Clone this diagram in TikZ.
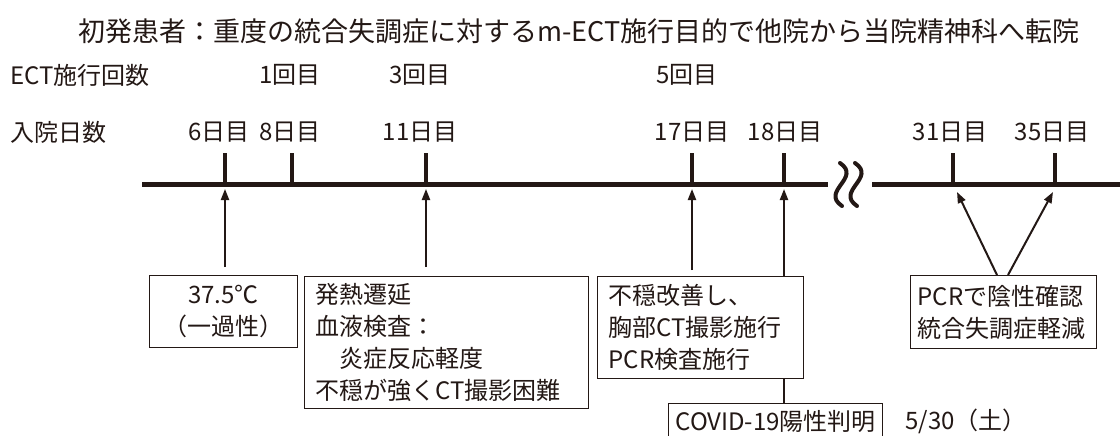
\documentclass[tikz,border=0pt]{standalone}
\usepackage{fontspec}
\setmainfont{Noto Sans CJK JP}
\usetikzlibrary{arrows.meta}
\definecolor{ink}{HTML}{231815}
\begin{document}
\begin{tikzpicture}[x=1pt,y=-1pt,
  lbl/.style={text=ink,font=\fontsize{24}{28}\selectfont,inner sep=0pt},
  ttl/.style={text=ink,font=\fontsize{27}{32}\selectfont,inner sep=0pt},
  box/.style={draw=ink,line width=1.3pt,text=ink,font=\fontsize{24}{32}\selectfont,
    anchor=north west,inner ysep=0pt},
  axis/.style={draw=ink,line width=5pt},
  tick/.style={draw=ink,line width=4pt},
  conn/.style={draw=ink,line width=2pt},
  arr/.style={conn,-{Triangle[length=11pt,width=8pt]}},
  brk/.style={draw=ink,line width=4pt,line cap=round}
]
\clip (0,0) rectangle (1120,436);
\fill[white] (0,0) rectangle (1120,436);

% title
\node[ttl] (title) at (579,31) {初発患者：重度の統合失調症に対するm-ECT施行目的で他院から当院精神科へ転院};

% row labels
\node[lbl,anchor=west] (ectlbl) at (10,75) {ECT施行回数};
\node[lbl,anchor=west] (daylbl) at (10,132) {入院日数};

% timeline
\coordinate (a0) at (142,184);
\coordinate (a1) at (828,184);
\coordinate (b0) at (872,184);
\coordinate (b1) at (1125,184);
\draw[axis] (a0) -- (a1);
\draw[axis] (b0) -- (b1);
\draw[brk] (840,163) .. controls (862,178) and (820,191) .. (842,206);
\draw[brk] (855,163) .. controls (877,178) and (835,191) .. (857,206);

% ticks
\foreach \n/\x in {t6/225,t8/292,t11/426,t17/692,t18/784,t31/953,t35/1055}{
  \coordinate (\n) at (\x,184);
  \draw[tick] (\x,153) -- (\n);
}

% day labels
\node[lbl] (d6) at (219,132) {6日目};
\node[lbl] (d8) at (290,132) {8日目};
\node[lbl] (d11) at (420,132) {11日目};
\node[lbl] (d17) at (692,132) {17日目};
\node[lbl] (d18) at (785,132) {18日目};
\node[lbl] (d31) at (950,132) {31日目};
\node[lbl] (d35) at (1052,132) {35日目};

% ECT labels
\node[lbl] (e1) at (290,75) {1回目};
\node[lbl] (e3) at (420,75) {3回目};
\node[lbl] (e5) at (687,75) {5回目};

% boxes
\node[box,minimum width=148pt,minimum height=72pt,align=center] (box1) at (149,275)
  {37.5℃\\（一過性）};
\node[box,minimum width=284pt,minimum height=132pt,text width=262pt,inner xsep=11pt,align=left] (box2) at (304,276)
  {発熱遷延\\血液検査：\\　炎症反応軽度\\不穏が強くCT撮影困難};
\node[box,minimum width=206pt,minimum height=102pt,text width=184pt,inner xsep=11pt,align=left] (box3) at (597,276)
  {不穏改善し、\\胸部CT撮影施行\\PCR検査施行};
\node[box,minimum width=214pt,minimum height=36pt,align=center] (box4) at (668,403)
  {COVID-19陽性判明};
\node[box,minimum width=186pt,minimum height=73pt,text width=172pt,inner xsep=7pt,align=left] (box5) at (910,275)
  {PCRで陰性確認\\統合失調症軽減};
\node[lbl] (date) at (966,421) {5/30（土）};

% connectors
\draw[arr,shorten >=5pt,shorten <=8pt] (box1.north -| t6) -- (t6);
\draw[arr,shorten >=5pt,shorten <=9pt] (box2.north -| t11) -- (t11);
\draw[arr,shorten >=5pt,shorten <=6pt] (box3.north -| t17) -- (t17);
\draw[arr,shorten >=5pt] (box3.north -| t18) -- (t18);
\draw[conn] (box3.south -| t18) -- (box4.north -| t18);
\coordinate (p31) at (997,275);
\coordinate (p35) at (1008,275);
\coordinate (q31) at (957,192);
\coordinate (q35) at (1053,192);
\draw[arr] (p31) -- (q31);
\draw[arr] (p35) -- (q35);
\end{tikzpicture}
\end{document}
